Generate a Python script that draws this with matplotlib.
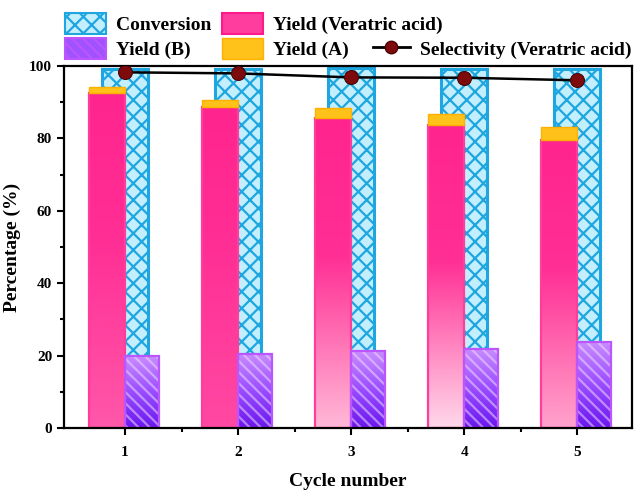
import numpy as np
import matplotlib
matplotlib.use("Agg")
import matplotlib.pyplot as plt
from matplotlib.colors import LinearSegmentedColormap
from matplotlib.patches import Patch
from matplotlib.lines import Line2D

cycles = [1, 2, 3, 4, 5]
conversion = [99.2, 99.2, 99.3, 99.2, 99.2]
yield_va = [92.5, 88.6, 85.6, 83.6, 79.6]
yield_a = [1.6, 2.0, 2.8, 3.0, 3.5]
yield_b = [19.8, 20.5, 21.2, 21.9, 23.8]
selectivity = [98.2, 97.9, 96.8, 96.7, 96.0]

plt.rcParams['font.family'] = 'Liberation Serif'
plt.rcParams['font.weight'] = 'bold'
plt.rcParams['hatch.linewidth'] = 1.6

fig = plt.figure(figsize=(6.37, 4.91), dpi=100)
ax = fig.add_axes([0.1005, 0.128, 0.891, 0.738])

x = np.array(cycles, dtype=float)
w_conv = 0.41
w_va = 0.32
w_b = 0.30

# bottom shade of each pink bar (top is always deep pink)
pink_bottoms = ['#ff4aa3', '#ff3a9b', '#ffb3d5', '#ffd6e9', '#ff9cc9']


def fill_gradient(patch, stops, z):
    x0, y0 = patch.get_x(), patch.get_y()
    x1, y1 = x0 + patch.get_width(), y0 + patch.get_height()
    cmap = LinearSegmentedColormap.from_list('g', stops)
    grad = np.linspace(0, 1, 256).reshape(-1, 1)
    im = ax.imshow(grad, cmap=cmap, origin='lower', aspect='auto',
                   extent=[x0, x1, y0, y1], zorder=z)
    im.set_clip_path(patch)


# conversion (back)
ax.bar(x, conversion, w_conv, color='#c2eefd', edgecolor='#1ea6e0',
       hatch='xx', linewidth=0, zorder=1)
ax.bar(x, conversion, w_conv, facecolor='none', edgecolor='#1ea6e0',
       linewidth=2.2, zorder=1.1)

# yield of veratric acid: gradient with a fine grid
va_bars = ax.bar(x - w_va / 2, yield_va, w_va, facecolor='none',
                 edgecolor='none', zorder=2)
for p, bot in zip(va_bars, pink_bottoms):
    fill_gradient(p, [(0, bot), (0.55, '#ff1e8c'), (1, '#ff1285')], 2)
ax.bar(x - w_va / 2, yield_va, w_va, facecolor='none',
       edgecolor=(1, 1, 1, 0.08), hatch='++++++', linewidth=0, zorder=2.1)
ax.bar(x - w_va / 2, yield_va, w_va, facecolor='none',
       edgecolor='#ff3d9a', linewidth=1.6, zorder=2.2)

# yield A stacked on top
ax.bar(x - w_va / 2, yield_a, w_va, bottom=yield_va, color='#ffc21a',
       edgecolor='#ffb000', linewidth=1.0, zorder=2.3)

# yield B: gradient with diagonal stripes
b_bars = ax.bar(x + w_b / 2, yield_b, w_b, facecolor='none',
                edgecolor='none', zorder=2)
for p in b_bars:
    fill_gradient(p, [(0, '#6a16ee'), (0.5, '#9a4cff'), (1, '#c98cff')], 2)
ax.bar(x + w_b / 2, yield_b, w_b, facecolor='none',
       edgecolor=(0.93, 0.85, 1, 0.55), hatch='\\\\\\', linewidth=0, zorder=2.1)
ax.bar(x + w_b / 2, yield_b, w_b, facecolor='none',
       edgecolor='#bb55ff', linewidth=1.6, zorder=2.2)

# selectivity line
ax.plot(x, selectivity, color='black', linewidth=1.8, marker='o',
        markersize=10, markerfacecolor='#7d0b0b', markeredgecolor='#4a0505',
        markeredgewidth=0.8, zorder=5)

ax.set_xlim(0.46, 5.48)
ax.set_ylim(0, 100)
ax.set_xticks(cycles)
ax.set_xticks([1.5, 2.5, 3.5, 4.5], minor=True)
ax.set_yticks(range(0, 101, 20))
ax.set_yticks(range(10, 100, 20), minor=True)
ax.tick_params(axis='both', which='major', direction='out', length=5,
               width=1.5, labelsize=11)
ax.tick_params(axis='x', which='major', pad=8)
ax.tick_params(axis='both', which='minor', direction='out', length=3,
               width=1.5)
for s in ax.spines.values():
    s.set_linewidth(1.6)
ax.set_xlabel('Cycle number', fontsize=14, fontweight='bold', labelpad=10)
ax.set_ylabel('Percentage (%)', fontsize=14, fontweight='bold', labelpad=6)

h_conv = Patch(facecolor='#c2eefd', edgecolor='#1ea6e0', hatch='xx',
               linewidth=1.5)
h_b = Patch(facecolor='#a052ff', edgecolor='#bb55ff', hatch='\\\\\\',
            linewidth=1.5)
h_va = Patch(facecolor='#ff3d9e', edgecolor='#ff1a8c', linewidth=1.5)
h_a = Patch(facecolor='#ffc21a', edgecolor='#ffb000', linewidth=1.0)
h_sel = Line2D([], [], color='black', linewidth=2, marker='o', markersize=9,
               markerfacecolor='#7d0b0b', markeredgecolor='#4a0505')

leg_kw = dict(loc='upper left', frameon=False, fontsize=14, borderpad=0,
              borderaxespad=0, handlelength=2.1, handleheight=1.3,
              handletextpad=0.5, labelspacing=0.2)
fig.legend([h_conv, h_b], ['Conversion', 'Yield (B)'],
           bbox_to_anchor=(65 / 637, 1 - 13 / 491), **leg_kw)
fig.legend([h_va, h_a], ['Yield (Veratric acid)', 'Yield (A)'],
           bbox_to_anchor=(222 / 637, 1 - 13 / 491), **leg_kw)
leg_kw['handlelength'] = 1.9
fig.legend([h_sel], ['Selectivity (Veratric acid)'],
           bbox_to_anchor=(373 / 637, 1 - 38 / 491), **leg_kw)

fig.savefig('out.png', dpi=100)
